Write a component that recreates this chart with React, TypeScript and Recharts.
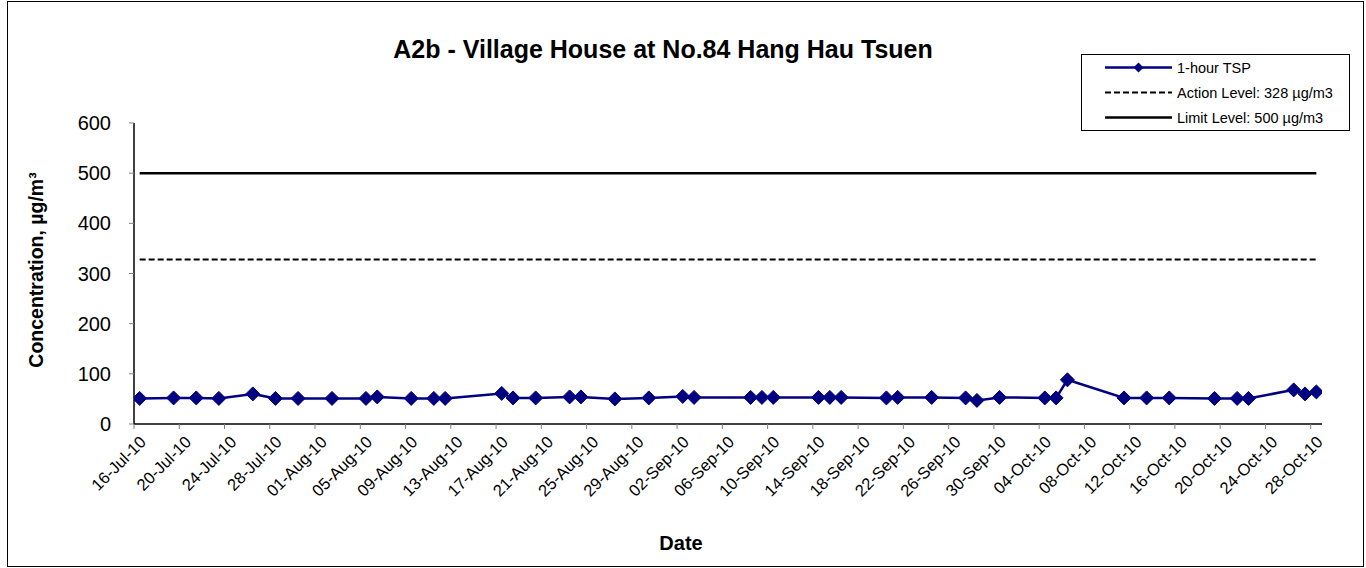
import React from 'react';
import { LineChart, Line, XAxis, YAxis, Legend, Customized } from 'recharts';

const dates = [
  '2010-07-16', '2010-07-19', '2010-07-21', '2010-07-23', '2010-07-26', '2010-07-28', '2010-07-30',
  '2010-08-02', '2010-08-05', '2010-08-06', '2010-08-09', '2010-08-11', '2010-08-12', '2010-08-17',
  '2010-08-18', '2010-08-20', '2010-08-23', '2010-08-24', '2010-08-27', '2010-08-30', '2010-09-02',
  '2010-09-03', '2010-09-08', '2010-09-09', '2010-09-10', '2010-09-14', '2010-09-15', '2010-09-16',
  '2010-09-20', '2010-09-21', '2010-09-24', '2010-09-27', '2010-09-28', '2010-09-30', '2010-10-04',
  '2010-10-05', '2010-10-06', '2010-10-11', '2010-10-13', '2010-10-15', '2010-10-19', '2010-10-21',
  '2010-10-22', '2010-10-26', '2010-10-27', '2010-10-28',
];
const tsp = [
  51, 52, 52, 51, 60, 51, 51,
  51, 51, 54, 51, 51, 51, 61,
  52, 52, 54, 54, 50, 52, 55,
  53, 53, 53, 53, 53, 53, 53,
  52, 53, 53, 52, 47, 53, 52,
  52, 88, 52, 52, 52, 51, 51,
  51, 68, 60, 64,
];
const actionLevel = 328;
const limitLevel = 500;
const tickLabels = [
  '16-Jul-10', '20-Jul-10', '24-Jul-10', '28-Jul-10', '01-Aug-10', '05-Aug-10', '09-Aug-10',
  '13-Aug-10', '17-Aug-10', '21-Aug-10', '25-Aug-10', '29-Aug-10', '02-Sep-10', '06-Sep-10',
  '10-Sep-10', '14-Sep-10', '18-Sep-10', '22-Sep-10', '26-Sep-10', '30-Sep-10', '04-Oct-10',
  '08-Oct-10', '12-Oct-10', '16-Oct-10', '20-Oct-10', '24-Oct-10', '28-Oct-10',
];
const yTicks = [0, 100, 200, 300, 400, 500, 600];
const seriesNames = ['1-hour TSP', 'Action Level: 328 µg/m3', 'Limit Level: 500 µg/m3'];
const title = 'A2b - Village House at No.84 Hang Hau Tsuen';
const xTitle = 'Date';
const yTitle = 'Concentration, µg/m³';

const FONT = '"Liberation Sans", Arial, Helvetica, sans-serif';
const NAVY = '#000080';
const DAY = 86400000;
const START = Date.UTC(2010, 6, 16);
const dayIndex = (s: string) => {
  const [y, m, d] = s.split('-').map(Number);
  return Math.round((Date.UTC(y, m - 1, d) - START) / DAY);
};

const data = dates.map((d, i) => ({
  x: dayIndex(d) + 0.5,
  tsp: tsp[i],
  action: actionLevel,
  limit: limitLevel,
}));
const xTicks = tickLabels.map((_, i) => i * 4);

const Diamond = (props: any) => {
  const { cx, cy } = props;
  if (cx == null || cy == null) return null;
  const r = 7;
  return (
    <polygon
      points={`${cx},${cy - r} ${cx + r},${cy} ${cx},${cy + r} ${cx - r},${cy}`}
      fill={NAVY}
      stroke={NAVY}
      strokeWidth={1}
    />
  );
};

const XTick = (props: any) => {
  const { x, y, index } = props;
  const ax = x + 13;
  const ay = y + 14;
  return (
    <text
      x={ax}
      y={ay}
      transform={`rotate(-45, ${ax}, ${ay})`}
      textAnchor="end"
      fontFamily={FONT}
      fontSize={16.5}
      fill="#000"
    >
      {tickLabels[index]}
    </text>
  );
};

const LegendBox = () => {
  const rows = [
    { stroke: NAVY, width: 2.5, dash: undefined as string | undefined, marker: true },
    { stroke: '#000', width: 2, dash: '6 3', marker: false },
    { stroke: '#000', width: 2.5, dash: undefined, marker: false },
  ];
  return (
    <svg width={269} height={77} style={{ display: 'block' }}>
      <rect x={0.5} y={0.5} width={268} height={76} fill="#fff" stroke="#000" strokeWidth={1} />
      {rows.map((r, i) => {
        const cy = 13.5 + i * 25;
        return (
          <g key={i}>
            <line x1={24} x2={91} y1={cy} y2={cy} stroke={r.stroke} strokeWidth={r.width} strokeDasharray={r.dash} />
            {r.marker && (
              <polygon points={`57.5,${cy - 5} 62.5,${cy} 57.5,${cy + 5} 52.5,${cy}`} fill={NAVY} />
            )}
            <text x={96} y={cy + 5} fontFamily={FONT} fontSize={14.5} fill="#000">
              {seriesNames[i]}
            </text>
          </g>
        );
      })}
    </svg>
  );
};

const Texts = () => (
  <g>
    <text x={663} y={58} textAnchor="middle" fontFamily={FONT} fontWeight="bold" fontSize={25} fill="#000">
      {title}
    </text>
    <text x={681} y={550} textAnchor="middle" fontFamily={FONT} fontWeight="bold" fontSize={20} fill="#000">
      {xTitle}
    </text>
    <text
      x={43}
      y={270}
      textAnchor="middle"
      transform="rotate(-90, 43, 270)"
      fontFamily={FONT}
      fontWeight="bold"
      fontSize={19.5}
      fill="#000"
    >
      {yTitle}
    </text>
  </g>
);

export default function App() {
  return (
    <div style={{ position: 'absolute', left: 0, top: 0, width: 1366, height: 568, background: '#fff', overflow: 'hidden' }}>
      <div
        style={{
          position: 'absolute',
          left: 7,
          top: 1,
          width: 1357,
          height: 566,
          border: '1px solid #000',
          boxSizing: 'border-box',
        }}
      />
      <div style={{ position: 'absolute', left: 0, top: 0 }}>
        <LineChart width={1366} height={568} data={data} margin={{ top: 123, right: 44, left: 0, bottom: 84 }}>
          <XAxis
            type="number"
            dataKey="x"
            domain={[0, 105]}
            ticks={xTicks}
            interval={0}
            allowDataOverflow
            height={60}
            tickSize={5}
            tickMargin={0}
            axisLine={{ stroke: '#000', strokeWidth: 1.5 }}
            tickLine={{ stroke: '#808080', strokeWidth: 1 }}
            tick={<XTick />}
          />
          <YAxis
            type="number"
            domain={[0, 600]}
            ticks={yTicks}
            interval={0}
            width={134}
            tickSize={5}
            tickMargin={18}
            axisLine={{ stroke: '#000', strokeWidth: 1.5 }}
            tickLine={{ stroke: '#808080', strokeWidth: 1 }}
            tick={{ fontSize: 20, fill: '#000', fontFamily: FONT }}
          />
          <Line
            dataKey="limit"
            stroke="#000"
            strokeWidth={2.5}
            dot={false}
            activeDot={false}
            isAnimationActive={false}
          />
          <Line
            dataKey="action"
            stroke="#000"
            strokeWidth={2}
            strokeDasharray="6 3"
            dot={false}
            activeDot={false}
            isAnimationActive={false}
          />
          <Line
            dataKey="tsp"
            stroke={NAVY}
            strokeWidth={2.5}
            dot={<Diamond />}
            activeDot={false}
            isAnimationActive={false}
          />
          <Legend
            layout="vertical"
            align="center"
            verticalAlign="middle"
            content={<LegendBox />}
            wrapperStyle={{ position: 'absolute', left: 1081, top: 54, width: 269, height: 77 }}
          />
          <Customized component={<Texts />} />
        </LineChart>
      </div>
    </div>
  );
}
